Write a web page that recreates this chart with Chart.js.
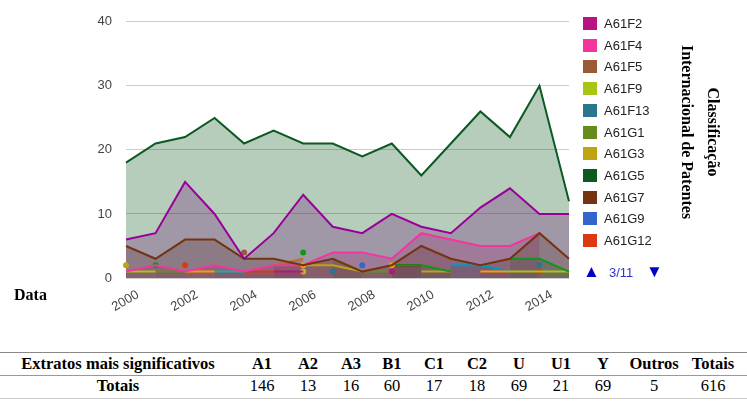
<!DOCTYPE html>
<html><head><meta charset="utf-8">
<script src="https://cdn.jsdelivr.net/npm/chart.js@4/dist/chart.umd.min.js"></script>
<style>
html,body{margin:0;padding:0;background:#fff;}
body{width:747px;height:403px;overflow:hidden;position:relative;font-family:Arial,"Liberation Sans",sans-serif;}
#c{position:absolute;left:0;top:0;}
.li{position:absolute;left:583px;height:14px;white-space:nowrap;font-size:13px;line-height:14px;color:#222;}
.sw{position:absolute;left:0;top:0;width:14px;height:13px;}
.lt{position:absolute;left:21px;top:0;}
.nav{position:absolute;white-space:nowrap;}
#title{position:absolute;left:700px;top:132px;transform:translate(-50%,-50%) rotate(90deg);font:bold 16px "Liberation Serif","Times New Roman",serif;line-height:26px;text-align:center;white-space:nowrap;color:#000;}
#datalbl{position:absolute;left:14px;top:286px;font:bold 16px "Liberation Serif","Times New Roman",serif;color:#000;}
.tc{position:absolute;transform:translateX(-50%);white-space:nowrap;font-family:"Liberation Serif","Times New Roman",serif;font-size:16.5px;line-height:18px;color:#000;}
.tb{font-weight:bold;}
.rule{position:absolute;left:0;width:747px;}
</style>
</head><body>
<canvas id="c" width="747" height="320"></canvas>
<div id="legend"></div>
<div id="title">Classificação<br>Internacional de Patentes</div>
<div id="datalbl">Data</div>
<div id="table"></div>
<script>
// ---- data ----
const years = ['2000','2001','2002','2003','2004','2005','2006','2007','2008','2009','2010','2011','2012','2013','2014','2015'];
const yTicks = [0, 10, 20, 30, 40];

// legend series (page 3/11)
const A61F2  = [null,null,null,null,null,1,1,null,null,1,null,null,null,null,null,null];
const A61F4  = [1,2,1,2,1,2,2,4,4,3,7,6,5,5,7,null];
const A61F5  = [null,null,null,null,4,null,null,null,null,null,null,null,null,null,null,null];
const A61F9  = [1,1,null,null,null,null,1,null,null,null,null,null,null,1,1,1];
const A61F13 = [null,null,null,null,null,null,null,1,null,null,null,null,null,null,2,null];
const A61G1  = [null,1,1,null,null,null,null,3,1,1,null,null,null,null,null,null];
const A61G3  = [2,null,null,null,null,null,2,2,1,null,1,1,null,null,null,null];
const A61G5  = [18,21,22,25,21,23,21,21,19,21,16,21,26,22,30,12];
const A61G7  = [5,3,6,6,3,3,2,3,1,2,5,3,2,3,7,3];
const A61G9  = [null,null,null,null,null,null,null,null,2,null,null,null,null,null,null,null];
const A61G12 = [null,null,2,null,1,1,null,null,null,null,null,null,null,null,1,null];

// other series (other legend pages)
const outraRoxa     = [6,7,15,10,3,7,13,8,7,10,8,7,11,14,10,10];
const outraLaranja  = [null,null,1,1,null,null,2,null,null,2,null,null,1,1,null,null];
const outraTurquesa = [null,null,null,1,1,null,null,null,null,null,null,null,null,null,null,null];
const outraCiano    = [null,null,null,null,null,null,null,null,null,null,null,2,2,1,null,null];
const outraVerde    = [null,2,null,null,null,null,4,null,null,2,2,1,null,3,3,1];
const outraCobre    = [null,null,null,null,null,2,3,null,null,null,null,null,null,null,null,null];
const outraGrena    = [null,null,null,null,null,null,null,null,null,2,2,null,null,null,null,null];

// table
const tableHeader = ['Extratos mais significativos','A1','A2','A3','B1','C1','C2','U','U1','Y','Outros','Totais'];
const tableRow    = ['Totais','146','13','16','60','17','18','69','21','69','5','616'];
const legendPage = '3/11';

// ---- styles ----
const legendSeries = [
  ['A61F2', A61F2, '#b91383'], ['A61F4', A61F4, '#f4359e'], ['A61F5', A61F5, '#9c5935'],
  ['A61F9', A61F9, '#a9c413'], ['A61F13', A61F13, '#2a778d'], ['A61G1', A61G1, '#668d1c'],
  ['A61G3', A61G3, '#bea413'], ['A61G5', A61G5, '#0c5922'], ['A61G7', A61G7, '#743411'],
  ['A61G9', A61G9, '#3366cc'], ['A61G12', A61G12, '#dc3912']
];
const otherSeries = [
  ['outra1', outraRoxa, '#990099'], ['outra2', outraLaranja, '#ff9900'], ['outra3', outraTurquesa, '#22aa99'],
  ['outra4', outraCiano, '#0099c6'], ['outra5', outraVerde, '#109618'], ['outra6', outraCobre, '#b77322'],
  ['outra7', outraGrena, '#8b0707']
];

function rgba(hex, a){const n=parseInt(hex.slice(1),16);return `rgba(${n>>16},${(n>>8)&255},${n&255},${a})`;}
function isolatedRadius(ctx){
  const d = ctx.dataset.data, i = ctx.dataIndex;
  if (d[i] == null) return 0;
  const p = i > 0 ? d[i-1] : null, n = i < d.length-1 ? d[i+1] : null;
  return (p == null && n == null) ? 3 : 0;
}
function mk(s){
  return {label:s[0], data:s[1], borderColor:s[2], backgroundColor:rgba(s[2],0.3),
    pointBackgroundColor:s[2], pointBorderWidth:0, pointRadius:isolatedRadius,
    borderWidth:2, tension:0, fill:'origin', spanGaps:false};
}
// draw order: first dataset drawn last (on top)
const ordered = [legendSeries[7], otherSeries[0], legendSeries[8], legendSeries[1]]
  .concat(otherSeries.slice(1)).concat(legendSeries.filter((s,i)=>![7,8,1].includes(i)));
const datasets = ordered.map(mk);

Chart.defaults.font.family = 'Arial, "Liberation Sans", sans-serif';
new Chart(document.getElementById('c'), {
  type:'line',
  data:{labels:years, datasets:datasets},
  options:{
    responsive:false, animation:false,
    layout:{padding:{top:18, right:178, left:0, bottom:0}},
    plugins:{legend:{display:false}, tooltip:{enabled:false}, filler:{drawTime:'beforeDatasetsDraw'}},
    scales:{
      x:{type:'category', offset:false,
        grid:{display:false}, border:{display:false},
        ticks:{autoSkip:false, maxRotation:30, minRotation:30, color:'#444', font:{size:13}, padding:1, labelOffset:12,
          callback:function(v){const l=this.getLabelForValue(v); return (parseInt(l)%2===0)?l:null;}},
        afterFit:(s)=>{s.height=42;}},
      y:{min:0, max:40,
        afterBuildTicks:(s)=>{s.ticks=yTicks.map(v=>({value:v}));},
        grid:{color:'#cccccc', drawTicks:false}, border:{display:false},
        ticks:{color:'#444', font:{size:13}, padding:14},
        afterFit:(s)=>{s.width=126;}}
    }
  }
});

// legend
const leg = document.getElementById('legend');
legendSeries.forEach((s,i)=>{
  const d=document.createElement('div'); d.className='li';
  d.style.top=(17+i*21.7)+'px';
  d.innerHTML=`<span class="sw" style="background:${s[2]}"></span><span class="lt">${s[0]}</span>`;
  leg.appendChild(d);
});
const nav=document.createElement('div'); nav.className='nav';
nav.style.cssText='position:absolute;left:583px;top:262px;';
nav.innerHTML='<span style="position:absolute;left:0;top:0;font-size:17px;color:#0000cc;">▲</span>'+
  `<span style="position:absolute;left:26px;top:3px;font-size:13px;color:#3333cc;">${legendPage}</span>`+
  '<span style="position:absolute;left:63px;top:0;font-size:17px;color:#0000cc;">▼</span>';
leg.appendChild(nav);

// table
const colX = [118,262,308,351,392,434,477,519,561,603,654,713];
const tbl = document.getElementById('table');
function addCell(txt,x,y,bold){const e=document.createElement('div');e.className='tc'+(bold?' tb':'');e.style.left=x+'px';e.style.top=y+'px';e.textContent=txt;tbl.appendChild(e);}
tableHeader.forEach((t,i)=>addCell(t,colX[i],355,true));
tableRow.forEach((t,i)=>addCell(t,colX[i],377,i===0));
function addRule(y,h,c){const e=document.createElement('div');e.className='rule';e.style.top=y+'px';e.style.height=h+'px';e.style.background=c;tbl.appendChild(e);}
addRule(352,1,'#888'); addRule(375,1,'#999'); addRule(398,1,'#ccc');
</script>
</body></html>
